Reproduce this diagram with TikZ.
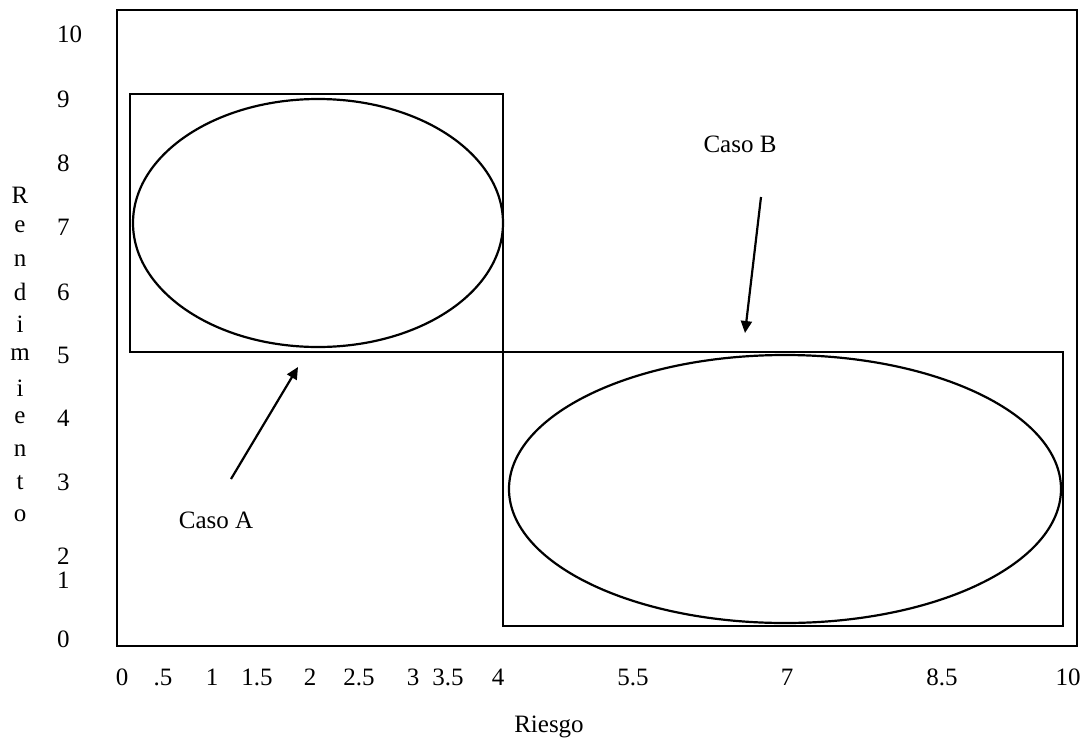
\documentclass[tikz,border=0pt]{standalone}
\usepackage{fontspec}
\setmainfont{Liberation Serif}
\usetikzlibrary{arrows.meta}
\begin{document}
\begin{tikzpicture}[x=1pt,y=-1pt,
  frame/.style={line width=2.7pt},
  boxline/.style={draw,line width=2.3pt,inner sep=0pt,outer sep=0pt},
  curve/.style={line width=2.2pt},
  lbl/.style={font=\fontsize{25}{30}\selectfont,inner sep=0pt},
  arr/.style={line width=2.2pt,-{Triangle[length=12pt,width=11pt]}}]
\useasboundingbox (0,0) rectangle (1087,742);

% outer frame
\draw[frame] (117,10) rectangle (1077,646);

% boxes
\node[boxline,minimum width=373pt,minimum height=258pt] (boxA) at (316.5,223) {};
\node[boxline,minimum width=560pt,minimum height=274pt] (boxB) at (783,489) {};

% ellipses
\draw[curve] (318,223) ellipse [x radius=185pt, y radius=124pt];
\draw[curve] (785,489) ellipse [x radius=276pt, y radius=134pt];

% labels Caso A / Caso B
\node[lbl] (casoA) at (216,520) {Caso A};
\node[lbl] (casoB) at (740,144) {Caso B};

% arrows
\coordinate (aTail) at (231,479);
\coordinate (aTip) at (298,367);
\coordinate (bTail) at (761,197);
\coordinate (bTip) at (745,333);
\draw[arr] (aTail) -- (aTip);
\draw[arr] (bTail) -- (bTip);

% y-axis tick labels
\foreach \v/\yy in {10/34,9/99,8/163,7/227,6/292,5/355,4/418,3/482,2/556,1/580,0/639}
  \node[lbl,anchor=west] (y\v) at (57,\yy) {\v};

% vertical word Rendimiento
\foreach \c/\yy [count=\i] in {R/195,e/227,n/261,d/292,i/324,m/355,i/388,e/418,n/451,t/483,o/516}
  \node[lbl] (r\i) at (20,\yy) {\c};

% x-axis tick labels
\foreach \t/\xx [count=\i] in {0/122,.5/163,1/212,1.5/257,2/310,2.5/359,3/413,3.5/448,4/498,5.5/633,7/787,8.5/942,10/1068}
  \node[lbl] (x\i) at (\xx,677) {\t};

% axis title
\node[lbl] (riesgo) at (549,727) {Riesgo};
\end{tikzpicture}
\end{document}
